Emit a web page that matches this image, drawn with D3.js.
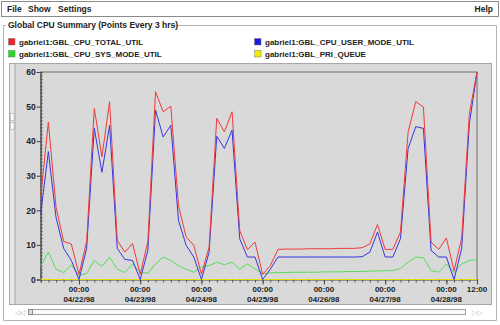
<!DOCTYPE html>
<html>
<head>
<meta charset="utf-8">
<script src="https://cdn.jsdelivr.net/npm/d3@7"></script>
<style>
  body { margin: 0; background: #fff; }
  svg { display: block; font-family: "Liberation Sans", Arial, sans-serif; }
</style>
</head>
<body>
<svg id="chart" width="500" height="325"></svg>
<script>
// samples every 3 hrs, first one 04/21/98 09:00
const totalUtil = [24, 45.5, 21, 11, 10.3, 1.5, 11, 49.5, 35.5, 51.4, 11.3, 7.9, 10.4, 1.5, 11, 54.3, 48.5, 50.1, 21.4, 12.3,
  9.9, 1.5, 9.4, 46.6, 42.7, 48.5, 14.2, 8.6, 10.8, 1.5, 4, 8.7, 8.8, 8.8, 8.8, 8.9, 8.9, 8.9, 8.9, 9,
  9, 9, 9.2, 10.3, 15.9, 8.7, 8.7, 13.7, 42.7, 51.4, 49.9, 10.8, 8.7, 12, 2.5, 12, 48, 60]
const userUtil = [19, 37, 18, 9, 5.5, 0, 9, 43.7, 31, 44.6, 9, 5.8, 5.5, 0, 8.4, 49, 41.2, 44.6, 17.1, 9.9,
  6.5, 0, 7.9, 41.4, 37.9, 43.2, 11.8, 6.5, 6.5, 0, 3, 6.5, 6.5, 6.5, 6.5, 6.5, 6.5, 6.5, 6.5, 6.5,
  6.5, 6.5, 6.6, 7.9, 13.7, 6.5, 6.5, 11.8, 37.9, 44.2, 43.7, 8.4, 6.5, 6.5, 0, 9, 45, 60]
const sysUtil = [3.8, 7.9, 3, 2, 4.2, 1.2, 1.7, 5.5, 3.8, 6.5, 3, 2, 4.5, 2.1, 1.8, 4.5, 6.5, 5.5, 4, 3,
  2.1, 3.6, 4, 5, 4.3, 5, 3, 4.5, 3.1, 1.6, 1.9, 2, 2, 2.1, 2.1, 2.1, 2.1, 2.2, 2.2, 2.2,
  2.3, 2.3, 2.3, 2.4, 2.5, 2.5, 2.6, 3.2, 5, 6.5, 6.3, 2.6, 2.1, 4.5, 2, 4.5, 5.5, 5.7]
const priQueue = [0, 0, 0, 0, 0, 0, 0, 0, 0, 0, 0, 0, 0, 0, 0, 0, 0, 0, 0, 0,
  0, 0, 0, 0, 0, 0, 0, 0, 0, 0, 0, 0, 0, 0, 0, 0, 0, 0, 0, 0,
  0, 0, 0, 0, 0, 0, 0, 0, 0, 0, 0, 0, 0, 0, 0, 0, 0, 0]

const yTicks = [0, 10, 20, 30, 40, 50, 60]
const menuItems = ["File", "Show", "Settings"]
const legendItems = [
  {name: "gabriel1:GBL_CPU_TOTAL_UTIL", color: "#ee2222"},
  {name: "gabriel1:GBL_CPU_SYS_MODE_UTIL", color: "#22dd22"},
  {name: "gabriel1:GBL_CPU_USER_MODE_UTIL", color: "#1a1ae0"},
  {name: "gabriel1:GBL_PRI_QUEUE", color: "#eeee00"}
]

const startTime = new Date(1998, 3, 21, 9)
const times = totalUtil.map((d, i) => d3.timeHour.offset(startTime, i * 3))
const endTime = times[times.length - 1]

const svg = d3.select("#chart")

//menu bar
svg.append("rect").attr("x", 1.5).attr("y", 1.5).attr("width", 497).attr("height", 15)
  .attr("fill", "#fff").attr("stroke", "#8a8a8a")
const menuX = [7, 28, 58]
menuItems.forEach((m, i) => {
  svg.append("text").attr("x", menuX[i]).attr("y", 12).attr("font-size", 8.5)
    .attr("font-weight", "bold").attr("fill", "#222").text(m)
})
svg.append("text").attr("x", 493).attr("y", 12).attr("text-anchor", "end").attr("font-size", 8.5)
  .attr("font-weight", "bold").attr("fill", "#222").text("Help")

//group box
svg.append("path").attr("d", "M6,25.5 H3.5 V320.5 H496.5 V25.5 H174")
  .attr("fill", "none").attr("stroke", "#b4b4b4")
svg.append("text").attr("x", 8).attr("y", 28).attr("font-size", 8.5).attr("font-weight", "bold")
  .attr("fill", "#222").text("Global CPU Summary (Points Every 3 hrs)")

//legend
legendItems.forEach((d, i) => {
  const lx = i < 2 ? 8 : 254
  const ly = i % 2 === 0 ? 38 : 50
  svg.append("rect").attr("x", lx + 0.5).attr("y", ly + 0.5).attr("width", 6.5).attr("height", 6.5)
    .attr("fill", d.color).attr("stroke", "#777").attr("stroke-width", 0.5)
  svg.append("text").attr("x", lx + 11).attr("y", ly + 6.8).attr("font-size", 8)
    .attr("font-weight", "bold").attr("fill", "#222").text(d.name)
})

//graph panel
svg.append("rect").attr("x", 9.5).attr("y", 63.5).attr("width", 482).attr("height", 241)
  .attr("fill", "#d9d9d9").attr("stroke", "#a8a8a8")
svg.append("rect").attr("x", 9.5).attr("y", 63.5).attr("width", 5.5).attr("height", 241)
  .attr("fill", "#e6e6e6").attr("stroke", "#a8a8a8")
svg.append("rect").attr("x", 10.5).attr("y", 113.5).attr("width", 3.5).attr("height", 7)
  .attr("fill", "#fff").attr("stroke", "#999").attr("stroke-width", 0.5)
svg.append("rect").attr("x", 10.5).attr("y", 122.5).attr("width", 3.5).attr("height", 7)
  .attr("fill", "#fff").attr("stroke", "#999").attr("stroke-width", 0.5)

//scroll bar
svg.append("rect").attr("x", 28.5).attr("y", 309.5).attr("width", 437).attr("height", 5)
  .attr("fill", "#fafafa").attr("stroke", "#a0a0a0")
svg.append("rect").attr("x", 28.5).attr("y", 309.5).attr("width", 4).attr("height", 5)
  .attr("fill", "#ddd").attr("stroke", "#888")
svg.append("text").attr("x", 15).attr("y", 315).attr("font-size", 7).attr("fill", "#aaa").text("◁◁")
svg.append("text").attr("x", 472).attr("y", 315).attr("font-size", 7).attr("fill", "#bbb").text("▷▷")

const x = d3.scaleTime().domain([times[0], endTime]).range([40.7, 477])
const y = d3.scaleLinear().domain([0, 60]).range([279.5, 72])

//plot frame
svg.append("rect").attr("x", 40.7).attr("y", 72).attr("width", 477 - 40.7).attr("height", 279.5 - 72)
  .attr("fill", "#d9d9d9").attr("stroke", "#6a6a6a")

//y axis
const yAxis = svg.append("g").attr("transform", "translate(40.7,0)")
  .call(d3.axisLeft(y).tickValues(yTicks).tickSize(4).tickPadding(1))
yAxis.select(".domain").attr("stroke", "#444")
yAxis.selectAll(".tick line").attr("stroke", "#444")
yAxis.selectAll("text").attr("font-size", 8.5).attr("font-weight", "bold").attr("fill", "#222")
  .attr("font-family", "Liberation Sans, Arial, sans-serif")
const yMinor = svg.append("g").attr("transform", "translate(40.7,0)")
  .call(d3.axisRight(y).tickValues(d3.range(0, 61)).tickSize(2).tickFormat(""))
yMinor.select(".domain").remove()
yMinor.selectAll("line").attr("stroke", "#555")

//x axis
const xMinor = svg.append("g").attr("transform", "translate(0,279.5)")
  .call(d3.axisBottom(x).tickValues(times).tickSize(3).tickFormat(""))
xMinor.select(".domain").attr("stroke", "#444")
xMinor.selectAll("line").attr("stroke", "#555")
const majorTicks = d3.timeDay.range(d3.timeDay.ceil(times[0]), endTime).concat([endTime])
const xAxis = svg.append("g").attr("transform", "translate(0,279.5)")
  .call(d3.axisBottom(x).tickValues(majorTicks).tickSize(5).tickFormat(""))
xAxis.select(".domain").remove()
xAxis.selectAll("line").attr("stroke", "#444")
const fmtTime = d3.timeFormat("%H:%M")
const fmtDate = d3.timeFormat("%m/%d/%y")
majorTicks.forEach(t => {
  const tx = svg.append("text").attr("x", x(t)).attr("text-anchor", "middle").attr("font-size", 8)
    .attr("font-weight", "bold").attr("fill", "#222")
  tx.append("tspan").attr("x", x(t)).attr("y", 292).text(fmtTime(t))
  if (t.getHours() === 0) tx.append("tspan").attr("x", x(t)).attr("y", 302).text(fmtDate(t))
})

//series
const line = d3.line().x((d, i) => x(times[i])).y(d => y(d))
const series = [
  {values: sysUtil, color: "#55dd55"},
  {values: priQueue, color: "#e4e400"},
  {values: userUtil, color: "#3535e0"},
  {values: totalUtil, color: "#f03a3a"}
]
series.forEach(s => {
  svg.append("path").attr("d", line(s.values)).attr("fill", "none")
    .attr("stroke", s.color).attr("stroke-width", 1)
})
</script>
</body>
</html>
